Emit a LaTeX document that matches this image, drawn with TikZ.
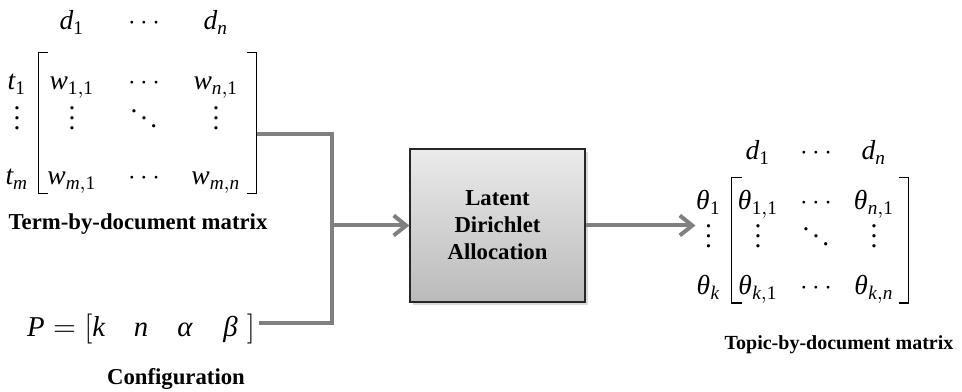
\documentclass[tikz,border=0pt]{standalone}
\usepackage{mathspec}
\setmainfont{Liberation Serif}
\setmathsfont(Digits,Latin,Greek){Liberation Serif}
\usetikzlibrary{arrows.meta, matrix, positioning, shadows}
\tikzset{
  entry/.style = {anchor=base, inner sep=0pt, text height=8pt, text depth=3pt,
    font=\fontsize{11}{13}\selectfont},
  rowlbl/.style = {entry, anchor=center},
  brk/.style = {line width=0.55pt, black},
  wire/.style = {line width=1.6pt, gray},
  heading/.style = {font=\fontsize{9.1}{10.8}\selectfont\bfseries, inner sep=0pt,
    anchor=base},
  ldabox/.style = {heading, anchor=center, align=center, draw=black!85,
    line width=0.5pt, top color=black!8, bottom color=black!27,
    minimum width=70pt, minimum height=61.2pt,
    drop shadow={opacity=0.3, shadow xshift=1.2pt, shadow yshift=-1.2pt}}
}

\begin{document}
\begin{tikzpicture}[x=0.4pt, y=-0.4pt, >={Straight Barb[length=5pt,width=8pt]}]
\useasboundingbox (0,0) rectangle (962,392);

% term-by-document matrix
\matrix (W) [matrix of math nodes, inner sep=0pt,
  nodes={entry, minimum width=24pt},
  column sep={28.8pt,between origins}, row sep=5pt] at (144,101.25) {
  d_1     & \cdots & d_n     \\[8pt]
  w_{1,1} & \cdots & w_{n,1} \\
  \vdots  & \ddots & \vdots  \\[6pt]
  w_{m,1} & \cdots & w_{m,n} \\
};
\draw[brk] ([xshift=2.8pt,yshift=6.8pt]W-2-1.north west) -- ++(-4pt,0)
  |- ([xshift=2.8pt,yshift=-0.2pt]W-4-1.south west);
\draw[brk] ([yshift=6.8pt]W-2-3.north east) -- ++(4pt,0)
  |- ([yshift=-0.2pt]W-4-3.south east);
\node[rowlbl, minimum width=9.6pt, left=4.8pt of W-2-1] (t1) {$t_1$};
\node[rowlbl, minimum width=9.6pt, left=4.8pt of W-3-1] (t2) {$\vdots$};
\node[rowlbl, minimum width=9.6pt, left=4.8pt of W-4-1] (tm) {$t_m$};
\node[heading] (wcap) at (138,230) {Term-by-document matrix};

% parameters
\node[anchor=base west, inner sep=1.5pt, font=\fontsize{11.5}{13}\selectfont]
  (cfg) at (23,337) {$P=[k\quad n\quad \alpha\quad \beta\;]$};
\node[heading] (cfgcap) at (176,385) {Configuration};

\node[ldabox] (lda) at (497.5,225.5) {Latent\\Dirichlet\\Allocation};

% topic-by-document matrix
\matrix (Th) [matrix of math nodes, inner sep=0pt,
  nodes={entry, minimum width=20pt},
  column sep={23.2pt,between origins}, row sep=4.2pt] at (816,221.25) {
  d_1          & \cdots & d_n          \\[4.8pt]
  \theta_{1,1} & \cdots & \theta_{n,1} \\
  \vdots       & \ddots & \vdots       \\[3.6pt]
  \theta_{k,1} & \cdots & \theta_{k,n} \\
};
\draw[brk] ([xshift=3.6pt,yshift=4.8pt]Th-2-1.north west) -- ++(-4pt,0)
  |- ([xshift=3.6pt]Th-4-1.south west);
\draw[brk] ([xshift=-0.4pt,yshift=4.8pt]Th-2-3.north east) -- ++(4pt,0)
  |- ([xshift=-0.4pt]Th-4-3.south east);
\node[rowlbl, minimum width=10pt, left=4.4pt of Th-2-1] (th1) {$\theta_1$};
\node[rowlbl, minimum width=10pt, left=4.4pt of Th-3-1] (th2) {$\vdots$};
\node[rowlbl, minimum width=10pt, left=4.4pt of Th-4-1] (thk) {$\theta_k$};
\node[heading, font=\fontsize{8}{10}\selectfont\bfseries] (thcap) at (839,350)
  {Topic-by-document matrix};

% wiring
\coordinate (Wout) at ([xshift=4pt,yshift=-4pt]W-3-3.east);
\coordinate[left=30.8pt of lda] (join);
\draw[wire] (Wout) -| (join) |- ([yshift=2.6pt]cfg.east);
\draw[wire, ->] (join) -- (lda);
\draw[wire, ->] (lda) -- (lda -| th2.west);
\end{tikzpicture}
\end{document}
